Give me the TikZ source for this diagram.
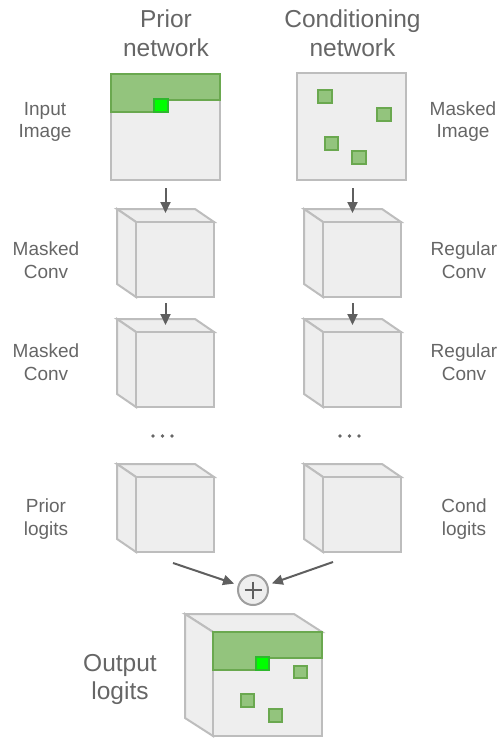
\documentclass[tikz,border=0pt]{standalone}
\usepackage{fontspec}
\setmainfont{Liberation Sans}
\usetikzlibrary{arrows.meta,calc}
\definecolor{facegray}{HTML}{EEEEEE}
\definecolor{edgegray}{HTML}{BDBDBD}
\definecolor{bandgreen}{HTML}{93C47D}
\definecolor{bandedge}{HTML}{6AA84F}
\definecolor{brightgreen}{HTML}{00FF00}
\definecolor{brightedge}{HTML}{2EB82E}
\definecolor{arrowgray}{HTML}{5F5F5F}
\definecolor{textgray}{HTML}{666666}
\definecolor{plusedge}{HTML}{9E9E9E}
\tikzset{
  face/.style={draw=edgegray, fill=facegray, line width=2pt, inner sep=0pt},
  cubeside/.style={draw=edgegray, fill=facegray, line width=2pt},
  band/.style={draw=bandedge, fill=bandgreen, line width=1.6pt},
  pix/.style={draw=bandedge, fill=bandgreen, line width=1.6pt},
  hot/.style={draw=brightedge, fill=brightgreen, line width=1.6pt},
  flow/.style={draw=arrowgray, line width=2pt, -{Triangle[length=11pt,width=10pt]}},
  big/.style={text=textgray, font=\fontsize{24.5}{29}\selectfont, inner sep=0pt, anchor=base},
  small/.style={text=textgray, font=\fontsize{19}{22}\selectfont, inner sep=0pt, anchor=base},
  dotc/.style={fill=textgray},
}
\newcommand\drawcube[7]{%
  \filldraw[cubeside] (#2-#4/2,#3-#5/2) -- ++(#6,#7) -- ++(#4,0) -- (#2+#4/2,#3-#5/2) -- cycle;
  \filldraw[cubeside] (#2-#4/2,#3-#5/2) -- ++(#6,#7) -- ++(0,#5) -- (#2-#4/2,#3+#5/2) -- cycle;
  \node[face, minimum width=#4pt, minimum height=#5pt] (#1) at (#2,#3) {};
}
\begin{document}
\begin{tikzpicture}[x=1pt,y=-1pt]
\useasboundingbox (0,0) rectangle (502,738);

% titles
\node[big] (tP1) at (166,28) {Prior};
\node[big] (tP2) at (166,57) {network};
\node[big] (tC1) at (352.5,28) {Conditioning};
\node[big] (tC2) at (352.5,57) {network};

% input images
\node[face, minimum width=109pt, minimum height=106pt] (imgL) at (165.5,127) {};
\filldraw[band] (111,74) -- (220,74) -- (220,100) -- (154,100) -- (154,112) -- (111,112) -- cycle;
\filldraw[hot] (154,99) rectangle (168,112);
\node[face, minimum width=109pt, minimum height=107pt] (imgR) at (351.5,126.5) {};
\filldraw[pix] (318,90) rectangle (332,103);
\filldraw[pix] (377,108) rectangle (391,121);
\filldraw[pix] (325,137) rectangle (338,150);
\filldraw[pix] (352,151) rectangle (366,164);

% side labels
\node[small] (lI1) at (45,116) {Input};
\node[small] (lI2) at (45,138) {Image};
\node[small] (lM1) at (463,116) {Masked};
\node[small] (lM2) at (463,138) {Image};
\node[small] (lA1) at (46,255) {Masked};
\node[small] (lA2) at (46,278) {Conv};
\node[small] (lB1) at (464,255) {Regular};
\node[small] (lB2) at (464,278) {Conv};
\node[small] (lA3) at (46,357) {Masked};
\node[small] (lA4) at (46,380) {Conv};
\node[small] (lB3) at (464,357) {Regular};
\node[small] (lB4) at (464,380) {Conv};
\node[small] (lP1) at (46,512) {Prior};
\node[small] (lP2) at (46,535) {logits};
\node[small] (lC1) at (464,512) {Cond};
\node[small] (lC2) at (464,535) {logits};
\node[big] (lO1) at (120,671) {Output};
\node[big] (lO2) at (120,699) {logits};

% cubes
\drawcube{cL1}{175}{259.5}{78}{75}{-19}{-13}
\drawcube{cR1}{362}{259.5}{78}{75}{-19}{-13}
\drawcube{cL2}{175}{369.5}{78}{75}{-19}{-13}
\drawcube{cR2}{362}{369.5}{78}{75}{-19}{-13}
\drawcube{cL3}{175}{514.5}{78}{75}{-19}{-13}
\drawcube{cR3}{362}{514.5}{78}{75}{-19}{-13}

% dots
\fill[dotc] (153,436) circle (1.9) (162.5,436) circle (1.9) (172,436) circle (1.9);
\fill[dotc] (340,436) circle (1.9) (349.5,436) circle (1.9) (359,436) circle (1.9);

% vertical arrows
\coordinate (sL1) at ($(imgL.south)+(0,7)$);
\coordinate (tL1) at ($(cL1.north)+(-9.5,-8)$);
\coordinate (sR1) at ($(imgR.south)+(0,7)$);
\coordinate (tR1) at ($(cR1.north)+(-9.5,-8)$);
\draw[flow] (sL1 -| tL1) -- (tL1);
\draw[flow] (sR1 -| tR1) -- (tR1);
\coordinate (sL2) at ($(cL1.south)+(-9.5,5)$);
\coordinate (tL2) at ($(cL2.north)+(-9.5,-6)$);
\coordinate (sR2) at ($(cR1.south)+(-9.5,5)$);
\coordinate (tR2) at ($(cR2.north)+(-9.5,-6)$);
\draw[flow] (sL2) -- (tL2);
\draw[flow] (sR2) -- (tR2);

% plus
\node[circle, draw=plusedge, fill=facegray, line width=2pt, minimum size=30pt, inner sep=0pt] (plus) at (253,590) {};
\draw[arrowgray, line width=2.6pt] ($(plus.center)+(-8.5,0)$) -- ($(plus.center)+(8.5,0)$);
\draw[arrowgray, line width=2.6pt] ($(plus.center)+(0,-8.5)$) -- ($(plus.center)+(0,8.5)$);
\coordinate (pL) at (173,563);
\coordinate (pR) at (333,562);
\draw[flow, shorten >=4pt] (pL) -- (plus);
\draw[flow, shorten >=4pt] (pR) -- (plus);

% output cube
\drawcube{cOut}{267.5}{684}{109}{104}{-28}{-18}
\filldraw[band] (213,632) -- (322,632) -- (322,658) -- (256,658) -- (256,670) -- (213,670) -- cycle;
\filldraw[hot] (256,657) rectangle (269,670);
\filldraw[pix] (294,666) rectangle (307,678);
\filldraw[pix] (241,694) rectangle (254,707);
\filldraw[pix] (269,709) rectangle (282,722);
\end{tikzpicture}
\end{document}
